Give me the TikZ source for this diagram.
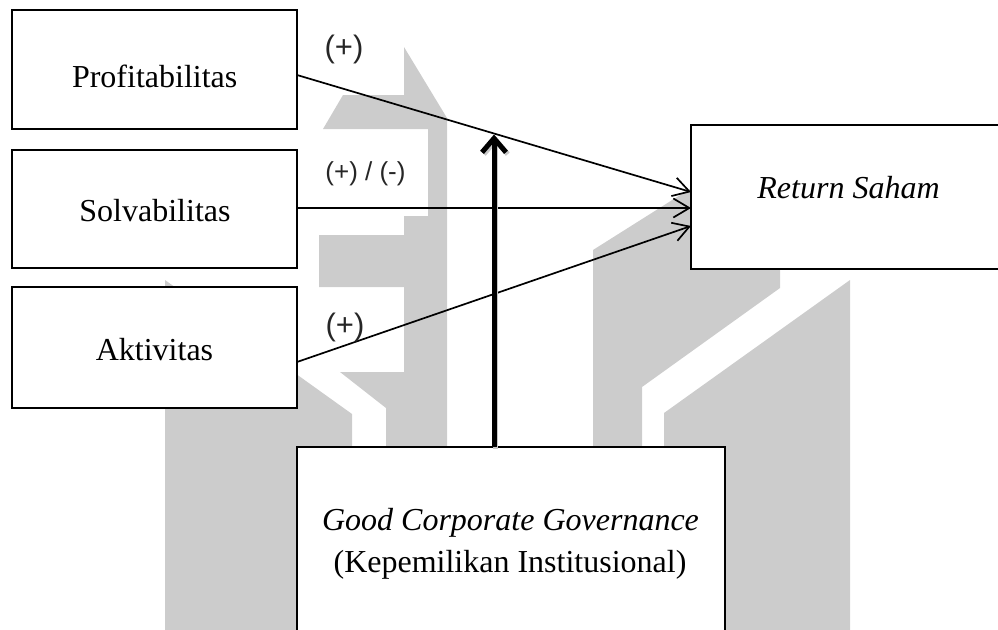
\documentclass[tikz,border=0pt]{standalone}
\usepackage{fontspec}
\setmainfont{Liberation Serif}
\newfontfamily\signfont{Liberation Sans}
\usetikzlibrary{arrows.meta}
\begin{document}
\begin{tikzpicture}[x=1pt,y=-1pt,
  box/.style={draw=black, line width=2pt, fill=white, rectangle,
              inner sep=0pt, outer sep=0pt, anchor=north west},
  term/.style={anchor=base, inner sep=0pt, font=\fontsize{32}{38}\selectfont},
  termit/.style={anchor=base, inner sep=0pt, font=\fontsize{32}{38}\selectfont\itshape},
  conn/.style={line width=1.7pt, -{Straight Barb[length=16pt,width=19pt]}},
  moder/.style={line width=5pt, -{Straight Barb[length=14pt,width=24pt]}},
  sign/.style={inner sep=0pt, text=black!85, font=\signfont\fontsize{31}{36}\selectfont},
  smallsign/.style={inner sep=0pt, text=black!85, font=\signfont\fontsize{26}{30}\selectfont},
  wmark/.style={fill=black!20, draw=none}]

\useasboundingbox (0,0) rectangle (998,629);
\clip (0,0) rectangle (998,629);

% background emblem
\fill[wmark] (165,280) -- (352,414) -- (352,640) -- (165,640) -- cycle;
\fill[wmark] (404,47) -- (447,118) -- (447,640) -- (386,640) -- (386,408)
  -- (340,372) -- (404,372) -- (404,287) -- (319,287) -- (319,235)
  -- (404,235) -- (404,216) -- (428,216) -- (428,129) -- (323,129)
  -- (343,95) -- (404,95) -- cycle;
\fill[wmark] (593,250) -- (780,132) -- (780,288) -- (642,387) -- (642,640)
  -- (593,640) -- cycle;
\fill[wmark] (850,280) -- (850,640) -- (664,640) -- (664,413) -- cycle;

% variable boxes
\node[box, minimum width=285pt, minimum height=119pt] (prof) at (12,10) {};
\node[box, minimum width=285pt, minimum height=118pt] (solv) at (12,150) {};
\node[box, minimum width=285pt, minimum height=121pt] (aktv) at (12,287) {};
\node[box, minimum width=320pt, minimum height=144pt] (ret)  at (691,125) {};
\node[box, minimum width=428pt, minimum height=220pt] (gcg)  at (297,447) {};

% box texts
\node[term]   (tprof) at (154.7,87.3) {Profitabilitas};
\node[term]   (tsolv) at (155,221.7) {Solvabilitas};
\node[term]   (taktv) at (154.5,360) {Aktivitas};
\node[termit] (tret)  at (848.5,198) {Return Saham};
\node[termit] (tgcg)  at (510.5,530) {Good Corporate Governance};
\node[term]   (tkep)  at (510,572) {(Kepemilikan Institusional)};

% direct effects
\draw[conn] ([yshift=-5.5pt]prof.east) -- ([yshift=5pt]ret.west);
\draw[conn] ([yshift=1pt]solv.east) -- ([yshift=-11pt]ret.west);
\draw[conn] ([yshift=-14.5pt]aktv.east) -- ([yshift=-29pt]ret.west);

% moderating effect
\coordinate (mod) at (494,134.5);
\begin{scope}[transform canvas={xshift=1.8pt,yshift=-1.8pt}]
  \draw[moder, black!22] (mod |- gcg.north) -- (mod);
\end{scope}
\draw[moder] (mod |- gcg.north) -- (mod);

% signs
\node[sign]      (s1) at (344,49)    {(+)};
\node[smallsign] (s2) at (365.5,174) {(+) / (-)};
\node[sign]      (s3) at (345,327.5) {(+)};
\end{tikzpicture}
\end{document}
